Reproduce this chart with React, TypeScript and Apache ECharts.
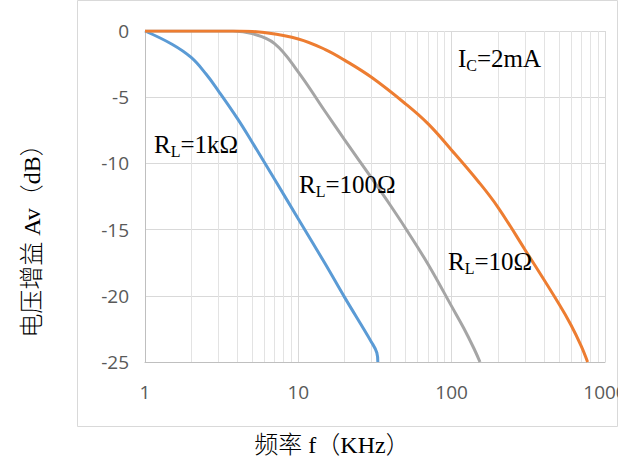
import React, { useEffect, useRef } from "react";
import * as echarts from "echarts";

// Frequency response of the common-emitter stage, Ic = 2 mA
const freq1k = [1, 1.5, 2, 2.5, 3, 4, 5, 7, 10, 15, 20, 30, 32.5, 33];
const gain1k = [0, -1.0, -2.0, -3.25, -4.5, -6.6, -8.4, -11.2, -14.2, -17.6, -20.1, -23.5, -24.3, -25];

const freq100 = [1, 3.75, 5, 7, 10, 15, 20, 30, 40, 50, 70, 100, 120, 140, 153];
const gain100 = [0, 0, -0.2, -0.95, -3.1, -6.1, -8.2, -11.1, -13.2, -14.9, -17.6, -20.8, -22.45, -24.0, -25];

const freq10 = [1, 4.2, 6, 10, 15, 20, 30, 50, 70, 100, 150, 200, 300, 500, 600, 700, 770];
const gain10 = [0, 0, -0.12, -0.6, -1.4, -2.2, -3.5, -5.5, -7.0, -9.0, -11.4, -13.3, -16.5, -20.6, -22.2, -23.8, -25];

// Intermediate decade gridlines of the log axis
const minorGrid = [2, 3, 4, 5, 6, 7, 8, 9, 20, 30, 40, 50, 60, 70, 80, 90, 200, 300, 400, 500, 600, 700, 800, 900];

const yTicks = { min: -25, max: 0, interval: 5 };
const xRange = { min: 1, max: 1000 };

const BLUE = "#5B9BD5";
const GRAY = "#A5A5A5";
const ORANGE = "#ED7D31";

const pairs = (xs: number[], ys: number[]) => xs.map((x, i) => [x, ys[i]]);

const SERIF = "'Liberation Serif', 'Times New Roman', serif";
const LABEL_FONT = "'Open Sans', 'Noto Sans', sans-serif";
const NAME_FONT = "'Liberation Serif', 'Noto Sans CJK SC', serif";

const richStyle = {
  m: { fontFamily: SERIF, fontSize: 25, lineHeight: 30, color: "#000" },
  s: { fontFamily: SERIF, fontSize: 16, lineHeight: 22, verticalAlign: "bottom", color: "#000" },
};

function note(text: string, x: number, y: number) {
  return {
    type: "text",
    x,
    y,
    z: 10,
    silent: true,
    style: { text, rich: richStyle, align: "left", verticalAlign: "top" },
  };
}

function curve(name: string, color: string, data: number[][], extra: object = {}) {
  return {
    name,
    type: "line",
    data,
    smooth: 0.4,
    symbol: "none",
    clip: true,
    lineStyle: { color, width: 3 },
    itemStyle: { color },
    z: 3,
    ...extra,
  };
}

export default function App() {
  const ref = useRef<HTMLDivElement>(null);

  useEffect(() => {
    if (!ref.current) return;
    const chart = echarts.init(ref.current, undefined, { renderer: "svg" });
    chart.setOption({
      animation: false,
      backgroundColor: "#fff",
      grid: {
        left: 145,
        right: 13,
        top: 31,
        bottom: 99,
        containLabel: false,
        outerBoundsMode: "none",
      },
      xAxis: {
        type: "log",
        logBase: 10,
        min: xRange.min,
        max: xRange.max,
        axisLine: { show: true, onZero: false, lineStyle: { color: "#BFBFBF", width: 1 } },
        axisTick: { show: false },
        axisLabel: {
          color: "#595959",
          fontSize: 19,
          fontFamily: LABEL_FONT,
          margin: 20,
          formatter: (v: number) => String(Math.round(v)),
        },
        splitLine: { show: true, lineStyle: { color: "#D9D9D9", width: 1 } },
      },
      yAxis: {
        type: "value",
        min: yTicks.min,
        max: yTicks.max,
        interval: yTicks.interval,
        axisLine: { show: true, onZero: false, lineStyle: { color: "#BFBFBF", width: 1 } },
        axisTick: { show: false },
        axisLabel: { color: "#595959", fontSize: 19, fontFamily: LABEL_FONT, margin: 16 },
        splitLine: { show: true, lineStyle: { color: "#D9D9D9", width: 1 } },
      },
      series: [
        curve("RL=1kΩ", BLUE, pairs(freq1k, gain1k), {
          markLine: {
            silent: true,
            symbol: "none",
            z: 1,
            animation: false,
            label: { show: false },
            emphasis: { disabled: true },
            lineStyle: { color: "#E3E3E3", width: 1, type: "solid" },
            data: minorGrid.map((v) => ({ xAxis: v })),
          },
        }),
        curve("RL=100Ω", GRAY, pairs(freq100, gain100)),
        curve("RL=10Ω", ORANGE, pairs(freq10, gain10)),
      ],
      graphic: [
        {
          type: "rect",
          z: -10,
          silent: true,
          shape: { x: 77.5, y: 0.5, width: 540, height: 426 },
          style: { fill: "none", stroke: "#D9D9D9", lineWidth: 1 },
        },
        {
          type: "text",
          x: 32,
          y: 235,
          rotation: Math.PI / 2,
          silent: true,
          style: {
            text: "电压增益 Av（dB）",
            fontFamily: NAME_FONT,
            fontSize: 24,
            fontWeight: 300,
            fill: "#000",
            align: "center",
            verticalAlign: "middle",
          },
        },
        {
          type: "text",
          x: 332,
          y: 445,
          silent: true,
          style: {
            text: "频率 f（KHz）",
            fontFamily: NAME_FONT,
            fontSize: 24,
            fontWeight: 300,
            fill: "#000",
            align: "center",
            verticalAlign: "middle",
          },
        },
        note("{m|R}{s|L}{m|=1kΩ}", 154, 129),
        note("{m|R}{s|L}{m|=100Ω}", 299, 169),
        note("{m|R}{s|L}{m|=10Ω}", 448, 246),
        note("{m|I}{s|C}{m|=2mA}", 458, 43),
      ],
    });
    return () => chart.dispose();
  }, []);

  return (
    <div
      ref={ref}
      style={{ position: "fixed", left: 0, top: 0, width: 618, height: 461, background: "#fff" }}
    />
  );
}
